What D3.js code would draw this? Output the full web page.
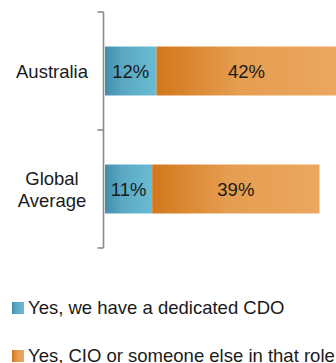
<!DOCTYPE html>
<html>
<head>
<meta charset="utf-8">
<script src="https://cdn.jsdelivr.net/npm/d3@7"></script>
<style>
  html, body { margin: 0; padding: 0; background: #fff; }
  svg { display: block; font-family: "Liberation Sans", Arial, sans-serif; }
</style>
</head>
<body>
<svg id="chart" width="336" height="363"></svg>
<script>
// Share of organisations with a Chief Data Officer
const categories = [["Australia"], ["Global", "Average"]];
const categoryKeys = ["Australia", "Global Average"];
const seriesNames = ["Yes, we have a dedicated CDO", "Yes, CIO or someone else in that role"];
const dedicatedCDO = [12, 11];
const otherRole = [42, 39];

const FONT = 18.5;
const svg = d3.select("#chart");
const defs = svg.append("defs");

// Gradient fills for the two series
const gradients = [
  { id: "gBlue", stops: [["0%", "#438dac"], ["35%", "#5aa8c3"], ["100%", "#69bcd4"]] },
  { id: "gOrange", stops: [["0%", "#d2771b"], ["45%", "#e59d50"], ["100%", "#eba75f"]] }
];
gradients.forEach(g => {
  const lg = defs.append("linearGradient").attr("id", g.id)
    .attr("x1", "0%").attr("x2", "100%").attr("y1", "0%").attr("y2", "0%");
  g.stops.forEach(([o, c]) => lg.append("stop").attr("offset", o).attr("stop-color", c));
});
const fills = ["url(#gBlue)", "url(#gOrange)"];

const x = d3.scaleLinear().domain([0, 60]).range([105, 362.4]);
const pIn = 0.585;
const y = d3.scaleBand().domain(categoryKeys).range([12, 248])
  .paddingInner(pIn).paddingOuter(pIn / 2);

// Stack the two series
const rows = categoryKeys.map((k, i) => ({ key: k, s0: dedicatedCDO[i], s1: otherRole[i] }));
const stacked = d3.stack().keys(["s0", "s1"])(rows);

const layers = svg.append("g").selectAll("g").data(stacked).join("g")
  .attr("fill", (d, i) => fills[i]);

layers.selectAll("rect").data(d => d).join("rect")
  .attr("x", d => x(d[0]))
  .attr("width", d => x(d[1]) - x(d[0]))
  .attr("y", d => y(d.data.key))
  .attr("height", y.bandwidth());

// Value labels centred in each segment
layers.selectAll("text").data(d => d.map(v => Object.assign({}, v, { val: v[1] - v[0] })))
  .join("text")
  .attr("x", d => (x(d[0]) + x(d[1])) / 2)
  .attr("y", d => y(d.data.key) + y.bandwidth() / 2 + 6.5)
  .attr("text-anchor", "middle")
  .attr("fill", "#1a1a1a")
  .attr("font-size", FONT)
  .text(d => d.val + "%");

// Category axis drawn as a bracket with ticks at band boundaries
const axisX = 103.5;
const bounds = [y.range()[0]].concat(categoryKeys.map(k => y(k) - y.step() * pIn / 2 + y.step()));
const axis = svg.append("g").attr("stroke", "#8a8a8a").attr("stroke-width", 1.6);
axis.append("line").attr("x1", axisX).attr("x2", axisX)
  .attr("y1", bounds[0]).attr("y2", bounds[bounds.length - 1]);
axis.selectAll("line.tick").data(bounds).join("line").attr("class", "tick")
  .attr("x1", axisX - 6).attr("x2", axisX).attr("y1", d => d).attr("y2", d => d);

// Category labels
svg.append("g").selectAll("text").data(categories).join("text")
  .attr("text-anchor", "middle")
  .attr("fill", "#1a1a1a")
  .attr("font-size", FONT)
  .each(function (lines, i) {
    const cy = y(categoryKeys[i]) + y.bandwidth() / 2;
    const lh = 22;
    const top = cy + 6.5 - (lines.length - 1) * lh / 2;
    d3.select(this).selectAll("tspan").data(lines).join("tspan")
      .attr("x", 52).attr("y", (d, j) => top + j * lh).text(d => d);
  });

// Legend
const legend = svg.append("g").selectAll("g").data(seriesNames).join("g")
  .attr("transform", (d, i) => `translate(12, ${302 + i * 48})`);
legend.append("rect").attr("width", 12).attr("height", 12)
  .attr("fill", (d, i) => fills[i]);
legend.append("text").attr("x", 16).attr("y", 11.5)
  .attr("fill", "#1a1a1a").attr("font-size", FONT).text(d => d);
</script>
</body>
</html>
